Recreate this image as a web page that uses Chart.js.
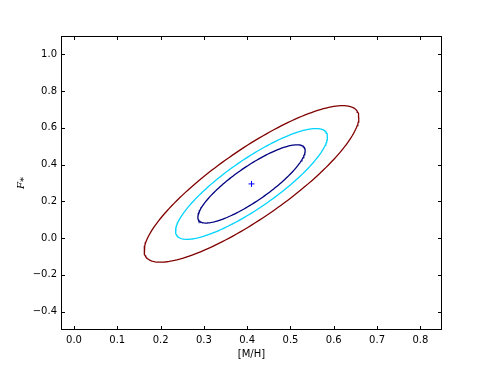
<!DOCTYPE html>
<html>
<head>
<meta charset="utf-8">
<script src="https://cdn.jsdelivr.net/npm/chart.js@4.4.1/dist/chart.umd.min.js"></script>
<style>
  html, body { margin: 0; padding: 0; background: #fff; }
</style>
</head>
<body>
<canvas id="chart" width="491" height="368"></canvas>
<script>
// best fit point
var bestX = [0.41];
var bestY = [0.295];

// gaussian shape of the confidence region ([M/H], F*)
var sigmas = [0.0817, 0.1404];
var rho = 0.85;
// delta chi^2 contour levels (68%, 90%, 99%)
var levels = [2.30, 4.61, 9.21];
var levelColors = ['#000080', '#00d4ff', '#800000'];

var xTicks = [0.0, 0.1, 0.2, 0.3, 0.4, 0.5, 0.6, 0.7, 0.8];
var yTicks = [-0.4, -0.2, 0.0, 0.2, 0.4, 0.6, 0.8, 1.0];

function contour(level) {
    var pts = [];
    var k = Math.sqrt(level);
    var n = 180;
    for (var i = 0; i <= n; i++) {
        var t = 2 * Math.PI * i / n;
        pts.push({
            x: bestX[0] + k * sigmas[0] * Math.cos(t),
            y: bestY[0] + k * sigmas[1] * (rho * Math.cos(t) + Math.sqrt(1 - rho * rho) * Math.sin(t))
        });
    }
    return pts;
}

var datasets = levels.map(function (lv, i) {
    return {
        data: contour(lv),
        showLine: true,
        borderColor: levelColors[i],
        borderWidth: 1.3,
        pointRadius: 0,
        tension: 0
    };
});
datasets.push({
    data: bestX.map(function (x, i) { return {x: x, y: bestY[i]}; }),
    showLine: false,
    pointStyle: 'cross',
    pointRadius: 3,
    borderColor: '#0000ff',
    borderWidth: 1
});

function fmt(v) {
    var s = Math.abs(v).toFixed(1);
    return v < -1e-9 ? '\u2212' + s : s;
}

// matplotlib-like frame with inward ticks on all four sides
var frame = {
    id: 'frame',
    afterDatasetsDraw: function (chart) {
        var ctx = chart.ctx, a = chart.chartArea;
        var xs = chart.scales.x, ys = chart.scales.y;
        ctx.save();
        ctx.strokeStyle = '#000';
        ctx.lineWidth = 1;
        xTicks.forEach(function (v) {
            var px = Math.round(xs.getPixelForValue(v)) + 0.5;
            ctx.beginPath();
            ctx.moveTo(px, a.bottom); ctx.lineTo(px, a.bottom - 4);
            ctx.moveTo(px, a.top); ctx.lineTo(px, a.top + 4);
            ctx.stroke();
        });
        yTicks.forEach(function (v) {
            var py = Math.round(ys.getPixelForValue(v)) + 0.5;
            ctx.beginPath();
            ctx.moveTo(a.left, py); ctx.lineTo(a.left + 4, py);
            ctx.moveTo(a.right, py); ctx.lineTo(a.right - 4, py);
            ctx.stroke();
        });
        ctx.strokeRect(Math.round(a.left) + 0.5, Math.round(a.top) + 0.5,
            Math.round(a.right - a.left) - 1, Math.round(a.bottom - a.top) - 1);
        ctx.restore();
    }
};

var context = document.getElementById('chart').getContext('2d');

new Chart(context, {
    type: 'scatter',
    data: {datasets: datasets},
    options: {
        responsive: false,
        animation: false,
        layout: {padding: {left: 0, top: 36, right: 49, bottom: 0}},
        plugins: {legend: {display: false}, tooltip: {enabled: false}},
        scales: {
            x: {
                type: 'linear',
                min: -0.03,
                max: 0.85,
                afterBuildTicks: function (s) { s.ticks = xTicks.map(function (v) { return {value: v}; }); },
                afterFit: function (s) { s.height = 38; },
                grid: {display: false, drawTicks: false},
                border: {display: false},
                ticks: {
                    padding: 4,
                    maxRotation: 0,
                    autoSkip: false,
                    color: '#000',
                    font: {family: 'DejaVu Sans', size: 10},
                    callback: function (v) { return fmt(v); }
                },
                title: {
                    display: true,
                    text: '[M/H]',
                    color: '#000',
                    font: {family: 'DejaVu Sans', size: 10},
                    padding: {top: 0, bottom: 8}
                }
            },
            y: {
                type: 'linear',
                min: -0.5,
                max: 1.1,
                afterBuildTicks: function (s) { s.ticks = yTicks.map(function (v) { return {value: v}; }); },
                afterFit: function (s) { s.width = 61; },
                grid: {display: false, drawTicks: false},
                border: {display: false},
                ticks: {
                    padding: 4,
                    autoSkip: false,
                    color: '#000',
                    font: {family: 'DejaVu Sans', size: 10},
                    callback: function (v) { return fmt(v); }
                },
                title: {
                    display: true,
                    text: 'F\u204E',
                    color: '#000',
                    font: {family: 'DejaVu Serif', size: 10, style: 'italic'},
                    padding: {top: 15, bottom: 0}
                }
            }
        }
    },
    plugins: [frame]
});
</script>
</body>
</html>
